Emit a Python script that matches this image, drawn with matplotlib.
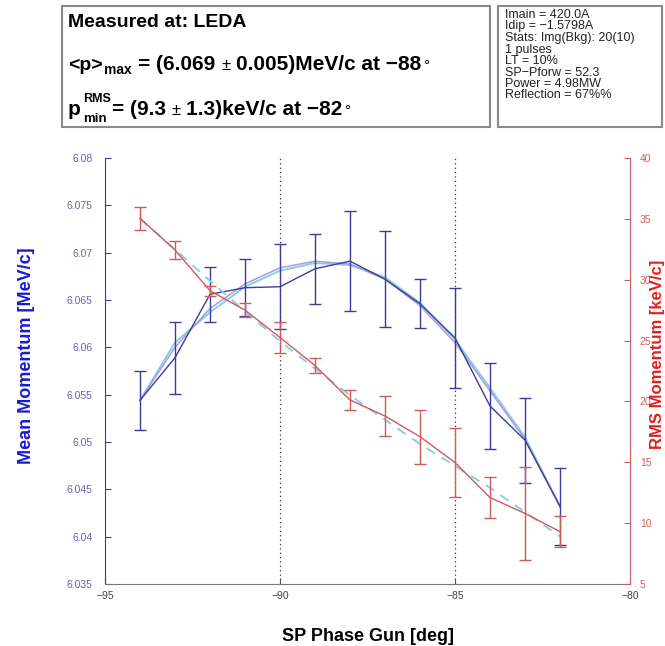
import matplotlib
matplotlib.use("Agg")
import matplotlib.pyplot as plt
from matplotlib.patches import Rectangle

plt.rcParams['font.family'] = ['Liberation Sans', 'DejaVu Sans']

# Phase scan data
phase = [-94, -93, -92, -91, -90, -89, -88, -87, -86, -85, -84, -83, -82]

mean_p = [6.0544, 6.0589, 6.0656, 6.0663, 6.0664, 6.0683, 6.0691,
          6.0672, 6.0646, 6.0610, 6.0538, 6.0502, 6.0432]
mean_err = [0.0031, 0.0038, 0.0029, 0.0030, 0.0045, 0.0037, 0.0053,
            0.0051, 0.0026, 0.0053, 0.0045, 0.0045, 0.0041]
mean_fit_a = [6.0544, 6.0605, 6.0637, 6.0664, 6.0681, 6.0689, 6.0687,
              6.0674, 6.0647, 6.0608, 6.0557, 6.0505, 6.0432]
mean_fit_b = [6.0544, 6.0600, 6.0641, 6.0667, 6.0684, 6.0691, 6.0688,
              6.0672, 6.0644, 6.0605, 6.0554, 6.0503, 6.0432]

rms_p = [35.05, 32.44, 29.1, 27.5, 25.25, 22.95, 20.12,
         18.8, 17.1, 14.98, 12.1, 10.8, 9.3]
rms_err = [0.93, 0.77, 0.41, 0.55, 1.25, 0.6, 0.83,
           1.65, 2.2, 2.8, 1.7, 3.85, 1.3]
rms_fit = [35.0, 32.5, 29.9, 27.4, 24.95, 22.7, 20.5,
           18.5, 16.5, 14.7, 12.9, 10.9, 8.9]

x_ticks = [-95, -90, -85, -80]
x_tick_labels = ['\u221295', '\u221290', '\u221285', '\u221280']
left_ticks = [6.035, 6.04, 6.045, 6.05, 6.055, 6.06, 6.065, 6.07, 6.075, 6.08]
left_tick_labels = ['6.035', '6.04', '6.045', '6.05', '6.055', '6.06',
                    '6.065', '6.07', '6.075', '6.08']
right_ticks = [5, 10, 15, 20, 25, 30, 35, 40]
marker_lines = [-90, -85]

info_lines = ['Imain = 420.0A', 'Idip = \u22121.5798A',
              'Stats: Img(Bkg): 20(10)', '1 pulses', 'LT = 10%',
              'SP\u2212Pforw = 52.3', 'Power = 4.98MW', 'Reflection = 67%%']

W, H = 665, 646
fig = plt.figure(figsize=(W / 100, H / 100), dpi=100)
renderer = fig.canvas.get_renderer()


def fx(px):
    return px / W


def fy(py):
    return 1 - py / H


def text_run(x, y, pieces):
    """Lay out text pieces left to right on a common baseline (pixel coords)."""
    for s, size, weight, dy, gap in pieces:
        t = fig.text(fx(x), fy(y + dy), s, fontsize=size, fontweight=weight,
                     va='baseline', ha='left', color='black')
        x += t.get_window_extent(renderer).width + gap
    return x


# Summary boxes above the plot
box_col = '#8a8a8a'
fig.patches.append(Rectangle((fx(62), fy(127)), fx(490) - fx(62), fy(6) - fy(127),
                             transform=fig.transFigure, fill=False,
                             edgecolor=box_col, linewidth=1.5))
fig.patches.append(Rectangle((fx(498), fy(127)), fx(662) - fx(498), fy(6) - fy(127),
                             transform=fig.transFigure, fill=False,
                             edgecolor=box_col, linewidth=1.5))

text_run(68, 27, [('Measured at: LEDA', 14, 'bold', 0, 0)])

text_run(68, 70, [
    ('<p>', 14, 'bold', 0, 1),
    ('max', 10, 'bold', 4, 7),
    ('= (6.069', 15, 'bold', 0, 6),
    ('\u00b1', 12, 'normal', 0, 5),
    ('0.005)MeV/c at \u221288', 15, 'bold', 0, 2),
    ('\u00b0', 11, 'normal', 0, 0),
])

x_after_p = text_run(68, 115, [('p', 15, 'bold', 0, 2)])
text_run(x_after_p, 115, [('RMS', 9, 'bold', -13, 0)])
text_run(x_after_p, 115, [
    ('min', 9.5, 'bold', 7, 5),
    ('= (9.3', 15, 'bold', 0, 6),
    ('\u00b1', 12, 'normal', 0, 5),
    ('1.3)keV/c at \u221282', 15, 'bold', 0, 2),
    ('\u00b0', 11, 'normal', 0, 0),
])

for i, line in enumerate(info_lines):
    fig.text(fx(505), fy(15 + 11.5 * i), line, fontsize=9, va='center', ha='left',
             color='#222222')

# Main axes
ax = fig.add_axes([fx(105), fy(584), fx(630) - fx(105), fy(158) - fy(584)])
ax2 = ax.twinx()

blue = '#3d3d99'
red = '#cf5a5a'
ax.set_xlim(-95, -80)
ax.set_ylim(6.035, 6.08)
ax2.set_ylim(5, 40)

for xv in marker_lines:
    ax.axvline(xv, color='#333333', linestyle=(0, (1, 2.5)), linewidth=0.9, zorder=1)

ax.plot(phase, mean_fit_a, color='#8ccbe8', linewidth=1.4, zorder=2)
ax.plot(phase, mean_fit_b, color='#a79ce0', linewidth=1.1, zorder=2)
ax.errorbar(phase, mean_p, yerr=mean_err, color=blue, linewidth=1.0,
            elinewidth=1.0, capsize=4, capthick=1.0, zorder=3)

ax2.plot(phase, rms_fit, color='#8ccbe8', linewidth=1.4, linestyle=(0, (5, 4)), zorder=2)
ax2.errorbar(phase, rms_p, yerr=rms_err, color=red, linewidth=1.0,
             elinewidth=1.0, capsize=4, capthick=1.0, zorder=3)

ax.set_xticks(x_ticks)
ax.set_xticklabels(x_tick_labels)
ax.set_yticks(left_ticks)
ax.set_yticklabels(left_tick_labels)
ax2.set_yticks(right_ticks)

ax.tick_params(axis='x', direction='in', length=4, labelsize=7.5, colors='#555555',
               labelcolor='#444444', pad=5)
ax.tick_params(axis='y', direction='in', length=4, labelsize=7.5, colors=blue,
               labelcolor='#6464b4', pad=9)
ax2.tick_params(axis='y', direction='in', length=4, labelsize=7.5, colors=red,
                labelcolor='#d06060', pad=7)

for a in (ax, ax2):
    a.spines['top'].set_visible(False)
ax.spines['bottom'].set_color('#777777')
ax.spines['left'].set_color(blue)
ax.spines['right'].set_visible(False)
ax2.spines['left'].set_visible(False)
ax2.spines['bottom'].set_visible(False)
ax2.spines['right'].set_color(red)

ax.set_xlabel('SP Phase Gun [deg]', fontsize=13, fontweight='bold')
ax.xaxis.set_label_coords(0.5, -0.103)
ax.set_ylabel('Mean Momentum [MeV/c]', fontsize=13, fontweight='bold',
              color='#1a1ad0')
ax.yaxis.set_label_coords(-0.133, 0.537)
ax2.set_ylabel('RMS Momentum [keV/c]', fontsize=12, fontweight='bold',
               color='#e02020')
ax2.yaxis.set_label_coords(1.039, 0.54)

fig.savefig('out.png', dpi=100)
